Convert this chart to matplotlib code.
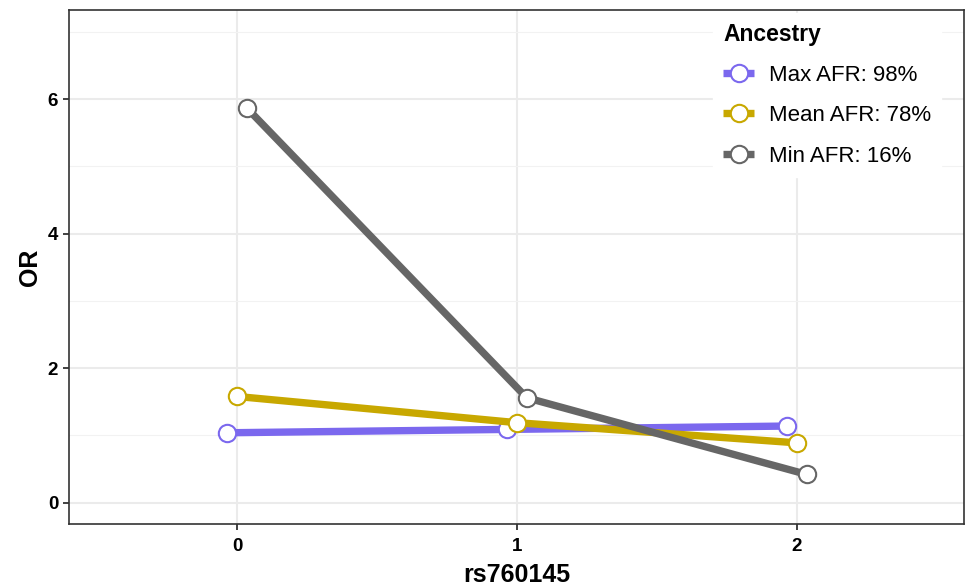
import matplotlib.pyplot as plt
from matplotlib.ticker import MultipleLocator

plt.rcParams["font.family"] = ["Liberation Sans", "DejaVu Sans"]

genotype = [0, 1, 2]
series = ["Max AFR: 98%", "Mean AFR: 78%", "Min AFR: 16%"]
or_max = [1.04, 1.09, 1.14]
or_mean = [1.58, 1.19, 0.89]
or_min = [5.87, 1.56, 0.42]

colors = ["#7B68EE", "#C8A800", "#666666"]
dodge = [-0.035, 0.0, 0.035]

fig = plt.figure(figsize=(9.66, 5.86), dpi=100)
ax = fig.add_axes([0.0714, 0.1053, 0.9262, 0.8776])

for vals, label, color, dx in zip([or_max, or_mean, or_min], series, colors, dodge):
    xs = [g + dx for g in genotype]
    ax.plot(xs, vals, color=color, lw=5.3, solid_capstyle="butt", zorder=3,
            marker="o", markersize=12.5, markerfacecolor="white",
            markeredgecolor=color, markeredgewidth=1.5, label=label)

ax.set_xlim(-0.6, 2.595)
ax.set_ylim(-0.321, 7.327)
ax.set_xticks(genotype)
ax.yaxis.set_major_locator(MultipleLocator(2))
ax.yaxis.set_minor_locator(MultipleLocator(1))

ax.grid(which="major", color="#EBEBEB", lw=1.5, zorder=0)
ax.grid(which="minor", axis="y", color="#F2F2F2", lw=0.8, zorder=0)
ax.set_axisbelow(True)

for s in ax.spines.values():
    s.set_color("#333333")
    s.set_linewidth(1.2)
ax.tick_params(which="major", length=4.3, width=1.3, color="#333333",
               labelsize=13.5, labelcolor="black")
ax.tick_params(axis="x", pad=5.5)
ax.tick_params(axis="y", pad=3.5)
ax.tick_params(which="minor", length=0)
for lab in ax.get_xticklabels() + ax.get_yticklabels():
    lab.set_fontweight("bold")

ax.set_xlabel("rs760145", fontsize=18, fontweight="bold", labelpad=6)
ax.set_ylabel("OR", fontsize=18, fontweight="bold", labelpad=4)

leg = ax.legend(loc="upper left", bbox_to_anchor=(0.7198, 0.995),
                title="Ancestry", fontsize=16, frameon=True,
                facecolor="white", edgecolor="white", framealpha=1,
                fancybox=False, handlelength=1.4, handletextpad=0.65,
                labelspacing=0.87, borderpad=0.45, borderaxespad=0)
leg.get_title().set_fontweight("bold")
leg.get_title().set_fontsize(16.5)
leg._legend_box.align = "left"

fig.savefig("out.png", dpi=100)
